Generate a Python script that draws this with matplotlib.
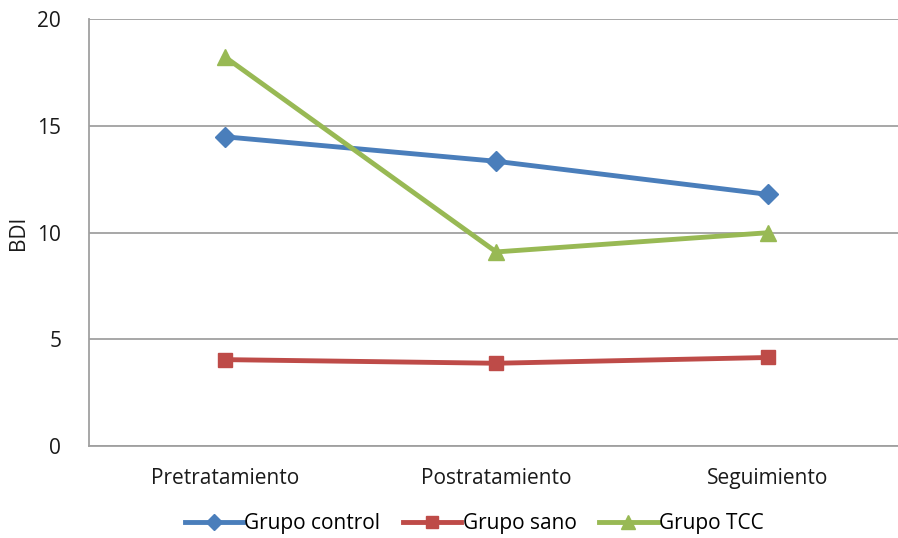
import matplotlib.pyplot as plt

plt.rcParams['font.family'] = ['Open Sans', 'DejaVu Sans']

categorias = ['Pretratamiento', 'Postratamiento', 'Seguimiento']
grupo_control = [14.5, 13.35, 11.8]
grupo_sano = [4.05, 3.88, 4.15]
grupo_tcc = [18.25, 9.1, 10.0]

fig = plt.figure(figsize=(8.98, 5.38), dpi=100)
ax = fig.add_axes([0.0991, 0.171, 0.9009, 0.7928])

x = range(len(categorias))
ax.plot(x, grupo_control, color='#4A7EBB', lw=3.5, marker='D', ms=10, label='Grupo control')
ax.plot(x, grupo_sano, color='#BE4B48', lw=3.5, marker='s', ms=10.5, label='Grupo sano')
ax.plot(x, grupo_tcc, color='#98B954', lw=3.5, marker='^', ms=12, label='Grupo TCC')

ax.set_xlim(-0.5, 2.48)
ax.set_ylim(0, 20)
ax.set_yticks([0, 5, 10, 15, 20])
ax.set_xticks(list(x))
ax.set_xticklabels(categorias)
ax.yaxis.grid(True, color='#A0A0A0', lw=1.3)
ax.set_axisbelow(True)
for s in ['top', 'right']:
    ax.spines[s].set_visible(False)
ax.spines['left'].set_color('#A0A0A0')
ax.spines['bottom'].set_color('#A0A0A0')
ax.spines['left'].set_linewidth(1.3)
ax.spines['bottom'].set_linewidth(1.3)
ax.tick_params(axis='y', length=0, labelsize=15, colors='#1a1a1a', pad=20)
ax.tick_params(axis='x', length=0, labelsize=15, colors='#1a1a1a', pad=16)
ax.set_ylabel('BDI', fontsize=15, color='#1a1a1a', labelpad=6)

fig.legend(loc='center', bbox_to_anchor=(0.528, 0.027), ncol=3, frameon=False,
           fontsize=15, handlelength=2.8, handletextpad=0.05, columnspacing=1.1,
           markerscale=0.85)

fig.savefig('out.png', dpi=100)
